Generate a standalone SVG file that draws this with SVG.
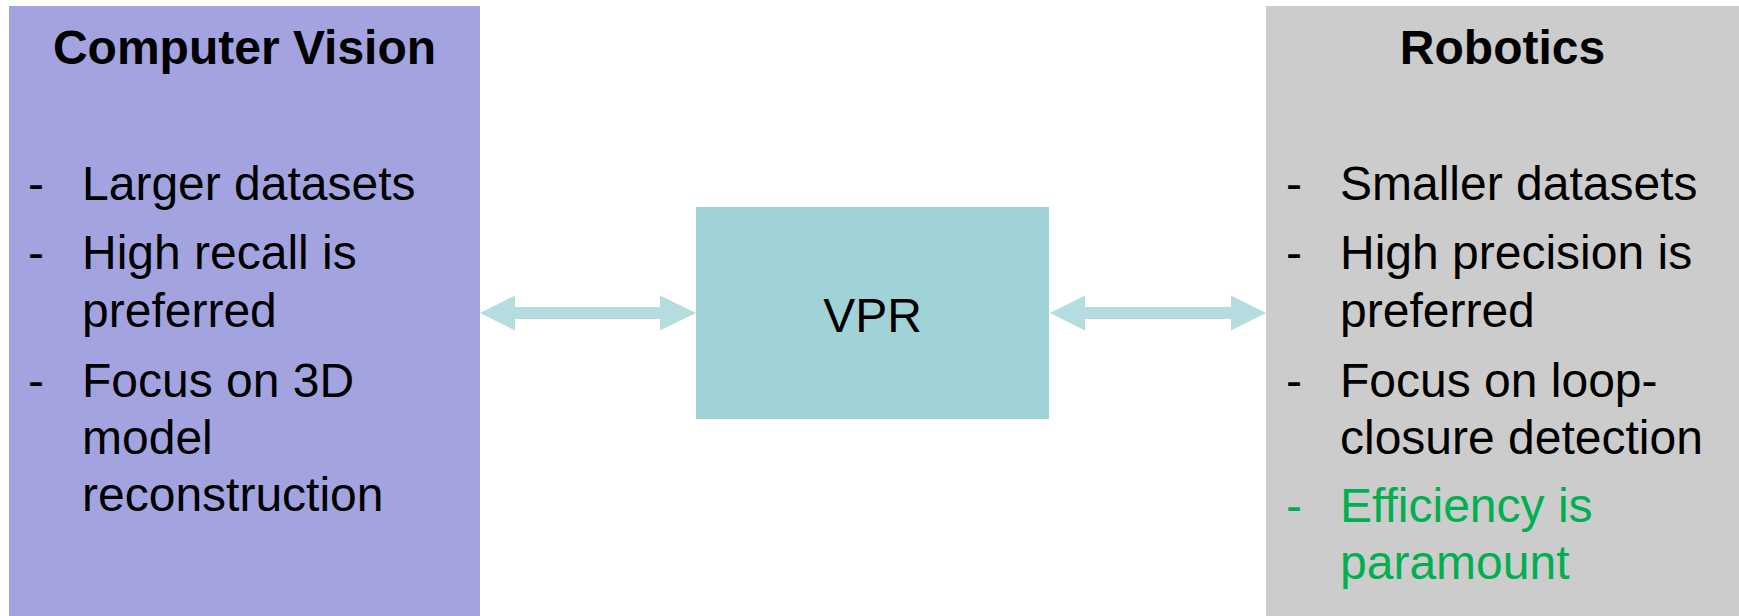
<svg xmlns="http://www.w3.org/2000/svg" width="1739" height="616" viewBox="0 0 1739 616">
<style>
text{font-family:"Liberation Sans",Arial,sans-serif;font-size:48px;fill:#000}
.title{font-weight:bold;text-anchor:middle}
.green{fill:#00B050}
.arrow{fill:#B5DDE0}
</style>
<rect width="1739" height="616" fill="#fff"/>
<g id="computer-vision">
<rect x="9" y="6" width="471" height="610" fill="#A3A3E0"/>
<text class="title" x="244.5" y="64">Computer Vision</text>
<text x="28" y="200">-</text><text x="82" y="200">Larger datasets</text>
<text x="28" y="269">-</text><text x="82" y="269">High recall is</text>
<text x="82" y="327">preferred</text>
<text x="28" y="397">-</text><text x="82" y="397">Focus on 3D</text>
<text x="82" y="454">model</text>
<text x="82" y="511">reconstruction</text>
</g>
<g id="vpr">
<rect x="696" y="207" width="353" height="212" fill="#A0D3D8"/>
<text x="872.5" y="332" text-anchor="middle">VPR</text>
</g>
<g id="robotics">
<rect x="1266" y="6" width="473" height="610" fill="#CCCCCC"/>
<text class="title" x="1502.5" y="64">Robotics</text>
<text x="1286" y="200">-</text><text x="1340" y="200">Smaller datasets</text>
<text x="1286" y="269">-</text><text x="1340" y="269">High precision is</text>
<text x="1340" y="327">preferred</text>
<text x="1286" y="397">-</text><text x="1340" y="397">Focus on loop-</text>
<text x="1340" y="454">closure detection</text>
<text class="green" x="1286" y="522">-</text><text class="green" x="1340" y="522">Efficiency is</text>
<text class="green" x="1340" y="579">paramount</text>
</g>
<g id="connectors">
<polygon class="arrow" points="480,313 515,295.5 515,307 660,307 660,295.5 696,313 660,330.5 660,319 515,319 515,330.5"/>
<polygon class="arrow" points="1050,313 1085,295.5 1085,307 1231,307 1231,295.5 1266,313 1231,330.5 1231,319 1085,319 1085,330.5"/>
</g>
</svg>
